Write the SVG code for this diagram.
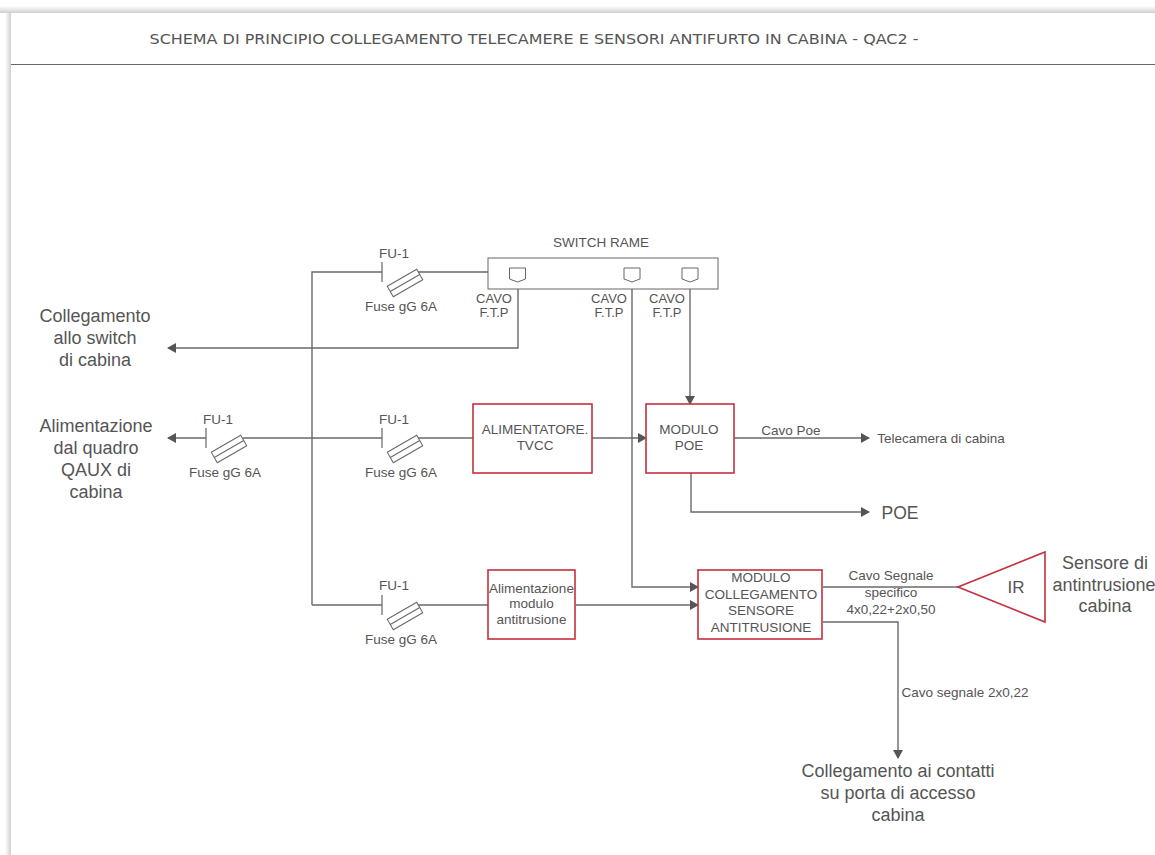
<svg xmlns="http://www.w3.org/2000/svg" width="1155" height="855" viewBox="0 0 1155 855">
<style>
text{font-family:"Liberation Sans",Arial,sans-serif;fill:#555;text-anchor:middle}
.s{font-size:13.500px}.m{font-size:13.500px}.l{font-size:18px}.c{font-size:13px}
.w{fill:none;stroke:#6a6a6a;stroke-width:1.400}
.r{fill:#fff;stroke:#c4303f;stroke-width:1.600}
.k{fill:#fff;stroke:#666;stroke-width:1}
</style>
<defs>
<marker id="a" markerUnits="userSpaceOnUse" markerWidth="10" markerHeight="11" refX="8" refY="5" orient="auto"><path d="M0 0L9 5L0 10Z" fill="#555"/></marker>
<g id="fuse"><path d="M0 -10V10" stroke="#666" stroke-width="1.200" fill="none"/><g transform="translate(23,11) rotate(-30)"><rect x="-17" y="-6" width="34" height="12" fill="#fff" stroke="#666"/><path d="M-17 0H17" stroke="#666"/></g></g>
<linearGradient id="gt" x1="0" y1="0" x2="0" y2="1"><stop offset="0" stop-color="#fff"/><stop offset="1" stop-color="#cfcfcf"/></linearGradient>
<linearGradient id="gl" x1="0" y1="0" x2="1" y2="0"><stop offset="0" stop-color="#fff"/><stop offset="1" stop-color="#cfcfcf"/></linearGradient>
</defs>
<rect width="1155" height="855" fill="#fff"/>
<rect x="0" y="6" width="1155" height="7" fill="url(#gt)"/>
<rect x="5" y="13" width="6" height="842" fill="url(#gl)"/>
<path d="M11 64.500H1155" stroke="#666" stroke-width="1.200"/>
<text x="534" y="44" textLength="769" lengthAdjust="spacingAndGlyphs" style="font-family:'DejaVu Sans',sans-serif;font-size:13.500px">SCHEMA DI PRINCIPIO COLLEGAMENTO TELECAMERE E SENSORI ANTIFURTO IN CABINA - QAC2 -</text>
<g id="connectors" class="w">
<path d="M518 282V348H168" marker-end="url(#a)"/>
<path d="M632 282V587H698" marker-end="url(#a)"/>
<path d="M690 282V404" marker-end="url(#a)"/>
<path d="M312 605V272H382M418 272H488"/>
<path d="M312 605H382M418 605H488"/>
<path d="M243 438H382M418 438H473"/>
<path d="M206 438H168" marker-end="url(#a)"/>
<path d="M592 438H646" marker-end="url(#a)"/>
<path d="M576 605H698" marker-end="url(#a)"/>
<path d="M734 438H869" marker-end="url(#a)"/>
<path d="M691 473V512H869" marker-end="url(#a)"/>
<path d="M823 587H958"/>
<path d="M823 622H898V758" marker-end="url(#a)"/>
</g>
<g id="switch"><rect class="k" x="488" y="258" width="230" height="31"/><text class="s" x="601" y="247">SWITCH RAME</text>
<path class="k" d="M509.500 268H525.500V279L517.500 282L509.500 279Z"/><path class="k" d="M624 268H640V279L632 282L624 279Z"/><path class="k" d="M682 268H698V279L690 282L682 279Z"/></g>
<g id="l-ftp1"><text class="c" x="494" y="303">CAVO</text><text class="c" x="494" y="316.500">F.T.P</text></g>
<g id="l-ftp2"><text class="c" x="609" y="303">CAVO</text><text class="c" x="609" y="316.500">F.T.P</text></g>
<g id="l-ftp3"><text class="c" x="667" y="303">CAVO</text><text class="c" x="667" y="316.500">F.T.P</text></g>
<g id="fu1"><use href="#fuse" transform="translate(382,272)"/><text class="s" x="394" y="258">FU-1</text><text class="s" x="401" y="311">Fuse gG 6A</text></g>
<g id="fu2"><use href="#fuse" transform="translate(206,438)"/><text class="s" x="218" y="424">FU-1</text><text class="s" x="225" y="477">Fuse gG 6A</text></g>
<g id="fu3"><use href="#fuse" transform="translate(382,438)"/><text class="s" x="394" y="424">FU-1</text><text class="s" x="401" y="477">Fuse gG 6A</text></g>
<g id="fu4"><use href="#fuse" transform="translate(382,605)"/><text class="s" x="394" y="590">FU-1</text><text class="s" x="401" y="644">Fuse gG 6A</text></g>
<g id="alim"><rect class="r" x="473" y="404" width="119" height="69"/><text class="m" x="535" y="434">ALIMENTATORE.</text><text class="m" x="535" y="450">TVCC</text></g>
<g id="poe"><rect class="r" x="646" y="404" width="88" height="69"/><text class="m" x="689" y="434">MODULO</text><text class="m" x="689" y="450">POE</text></g>
<g id="alimmod"><rect class="r" x="488" y="570" width="87" height="69"/><text class="m" x="531.500" y="592.500">Alimentazione</text><text class="m" x="531.500" y="608">modulo</text><text class="m" x="531.500" y="623.500">antitrusione</text></g>
<g id="modulo"><rect class="r" x="698" y="570" width="124" height="69"/><text class="m" x="761" y="582">MODULO</text><text class="m" x="761" y="599">COLLEGAMENTO</text><text class="m" x="761" y="615">SENSORE</text><text class="m" x="761" y="632">ANTITRUSIONE</text></g>
<g id="ir"><path class="r" d="M958 587L1045 552V622Z"/><text x="1016" y="593" style="font-size:17px">IR</text></g>
<g id="labels">
<text class="l" x="95" y="322">Collegamento</text><text class="l" x="95" y="344">allo switch</text><text class="l" x="95" y="366">di cabina</text>
<text class="l" x="96" y="432">Alimentazione</text><text class="l" x="96" y="454">dal quadro</text><text class="l" x="96" y="476">QAUX di</text><text class="l" x="96" y="498">cabina</text>
<text class="s" x="791" y="435">Cavo Poe</text><text class="s" x="941" y="443">Telecamera di cabina</text>
<text x="900" y="519" style="font-size:17.500px">POE</text>
<text class="s" x="891" y="580">Cavo Segnale</text><text class="s" x="891" y="597">specifico</text><text class="s" x="891" y="614">4x0,22+2x0,50</text>
<text class="l" x="1105" y="569">Sensore di</text><text class="l" x="1104" y="591">antintrusione</text><text class="l" x="1105" y="612">cabina</text>
<text class="s" x="965" y="697">Cavo segnale 2x0,22</text>
<text class="l" x="898" y="777">Collegamento ai contatti</text><text class="l" x="898" y="799">su porta di accesso</text><text class="l" x="898" y="821">cabina</text>
</g>
</svg>
